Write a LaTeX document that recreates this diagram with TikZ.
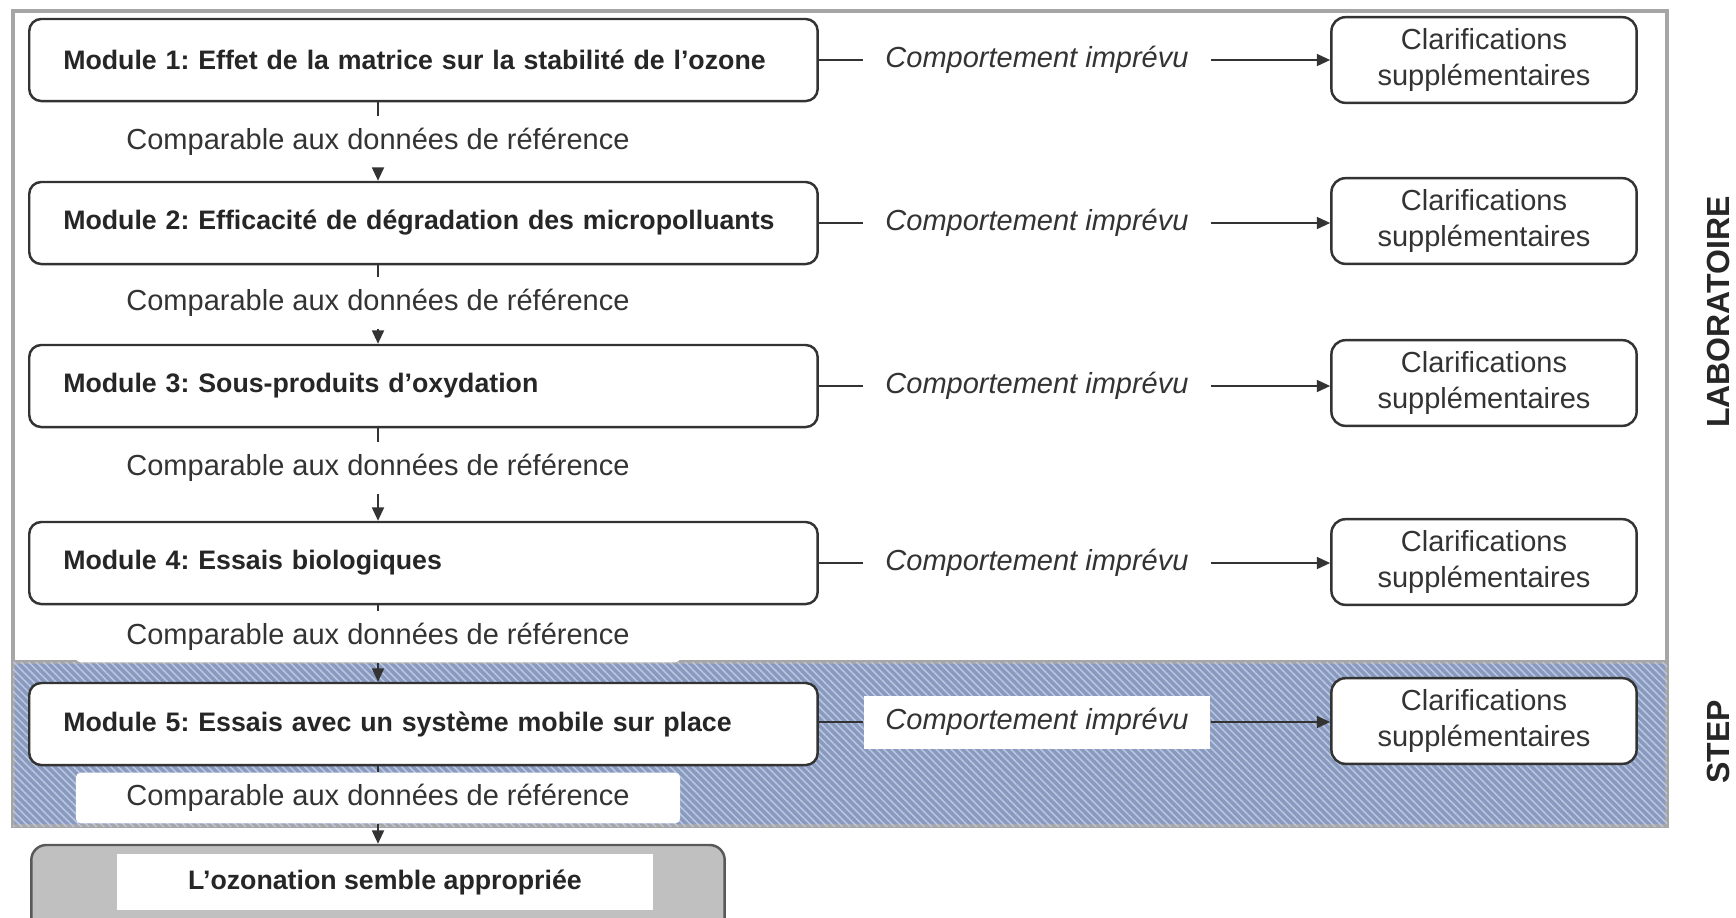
\documentclass[tikz,border=0pt]{standalone}
\usepackage{fontspec}
\setmainfont{Liberation Sans}
\frenchspacing
\usetikzlibrary{
    arrows.meta,
    patterns.meta,
    positioning
}
\definecolor{inkgray}{HTML}{333333}
\definecolor{framegray}{HTML}{A6A6A6}
\definecolor{stepblue}{RGB}{136,154,192}
\definecolor{stepline}{RGB}{186,198,222}
\definecolor{endgray}{HTML}{C0C0C0}

\begin{document}
\begin{tikzpicture}[x=0.01cm, y=-0.01cm,
    font=\fontsize{8.25pt}{10pt}\selectfont, text=inkgray,
    module/.style={draw=inkgray, line width=0.7pt, rounded corners=0.12cm, fill=white,
        anchor=west, minimum height=0.82cm, text width=7.2cm, inner xsep=0.34cm,
        align=left, text=black!85, font=\fontsize{7.6pt}{9pt}\selectfont\bfseries},
    clarif/.style={draw=inkgray, line width=0.7pt, rounded corners=0.14cm, fill=white,
        minimum width=3.05cm, minimum height=0.82cm, align=center},
    unexp/.style={fill=white, minimum width=3.46cm, minimum height=0.53cm,
        font=\fontsize{8.25pt}{10pt}\selectfont\itshape},
    compar/.style={fill=white, rounded corners=0.05cm, minimum width=6.04cm, minimum height=0.42cm},
    finalbox/.style={draw=black!65, line width=0.7pt, fill=endgray, rounded corners=0.15cm,
        minimum width=6.93cm, minimum height=0.9cm},
    finaltext/.style={fill=white, minimum width=5.36cm, minimum height=0.56cm, text=black!85,
        font=\fontsize{7.6pt}{9pt}\selectfont\bfseries},
    zone/.style={rotate=90, text=black!85, font=\fontsize{9.1pt}{11pt}\selectfont\bfseries},
    conn/.style={draw=inkgray, line width=0.55pt},
    connarrow/.style={conn, -{Triangle[length=3.8pt, width=3.4pt]}}
]
    \useasboundingbox (0, 0) rectangle (1736, 917);

    % laboratoire / STEP
    \draw[framegray, line width=0.9pt] (13, 11) rectangle (1667, 662);
    \draw[framegray, line width=0.9pt, fill=stepblue,
        postaction={pattern={Lines[angle=-45, distance=1.5pt, line width=0.45pt]}, pattern color=stepline}]
        (13, 662) rectangle (1667, 826);

    % modules
    \node[module] (m1) at (28, 60) {Module 1: Effet de la matrice sur la stabilité de l’ozone};
    \node[module] (m2) at (28, 223) {Module 2: Efficacité de dégradation des micropolluants};
    \node[module] (m3) at (28, 386) {Module 3: Sous-produits d’oxydation};
    \node[module] (m4) at (28, 563) {Module 4: Essais biologiques};
    \node[module] (m5) at (28, 724) {Module 5: Essais avec un système mobile sur place};

    \node[unexp] (u1) at (1037, 60) {Comportement imprévu};
    \node[unexp] (u2) at (1037, 223) {Comportement imprévu};
    \node[unexp] (u3) at (1037, 386) {Comportement imprévu};
    \node[unexp] (u4) at (1037, 563) {Comportement imprévu};
    \node[unexp] (u5) at (1037, 722) {Comportement imprévu};

    \node[clarif] (k1) at (1484, 60) {Clarifications\\supplémentaires};
    \node[clarif] (k2) at (1484, 221) {Clarifications\\supplémentaires};
    \node[clarif] (k3) at (1484, 383) {Clarifications\\supplémentaires};
    \node[clarif] (k4) at (1484, 562) {Clarifications\\supplémentaires};
    \node[clarif] (k5) at (1484, 721) {Clarifications\\supplémentaires};

    \node[compar] (c1) at (378, 142) {Comparable aux données de référence};
    \node[compar] (c2) at (378, 303) {Comparable aux données de référence};
    \node[compar] (c3) at (378, 468) {Comparable aux données de référence};
    \node[compar] (c4) at (378, 637) {Comparable aux données de référence};
    \node[compar] (c5) at (378, 798) {Comparable aux données de référence};

    \node[finalbox] (fin) at (378, 890) {};
    \node[finaltext] (fintext) at (385, 882) {L’ozonation semble appropriée};

    \node[zone] (lab) at (1718, 312) {LABORATOIRE};
    \node[zone] (step) at (1718, 742) {STEP};

    % liaisons
    \draw[conn] (c1 |- m1.south) -- (c1.north);
    \draw[connarrow] (c1.south) -- (c1 |- m2.north);
    \draw[conn] (c2 |- m2.south) -- (c2.north);
    \draw[connarrow] (c2.south) -- (c2 |- m3.north);
    \draw[conn] (c3 |- m3.south) -- (c3.north);
    \draw[connarrow] (c3.south) -- (c3 |- m4.north);
    \draw[conn] (c4 |- m4.south) -- (c4.north);
    \draw[connarrow] (c4.south) -- (c4 |- m5.north);
    \draw[conn] (c5 |- m5.south) -- (c5.north);
    \draw[connarrow] (c5.south) -- (c5 |- fin.north);

    \draw[conn] (m1.east |- u1) -- (u1.west);
    \draw[connarrow] (u1.east) -- (k1.west |- u1.east);
    \draw[conn] (m2.east |- u2) -- (u2.west);
    \draw[connarrow] (u2.east) -- (k2.west |- u2.east);
    \draw[conn] (m3.east |- u3) -- (u3.west);
    \draw[connarrow] (u3.east) -- (k3.west |- u3.east);
    \draw[conn] (m4.east |- u4) -- (u4.west);
    \draw[connarrow] (u4.east) -- (k4.west |- u4.east);
    \draw[conn] (m5.east |- u5) -- (u5.west);
    \draw[connarrow] (u5.east) -- (k5.west |- u5.east);
\end{tikzpicture}
\end{document}
